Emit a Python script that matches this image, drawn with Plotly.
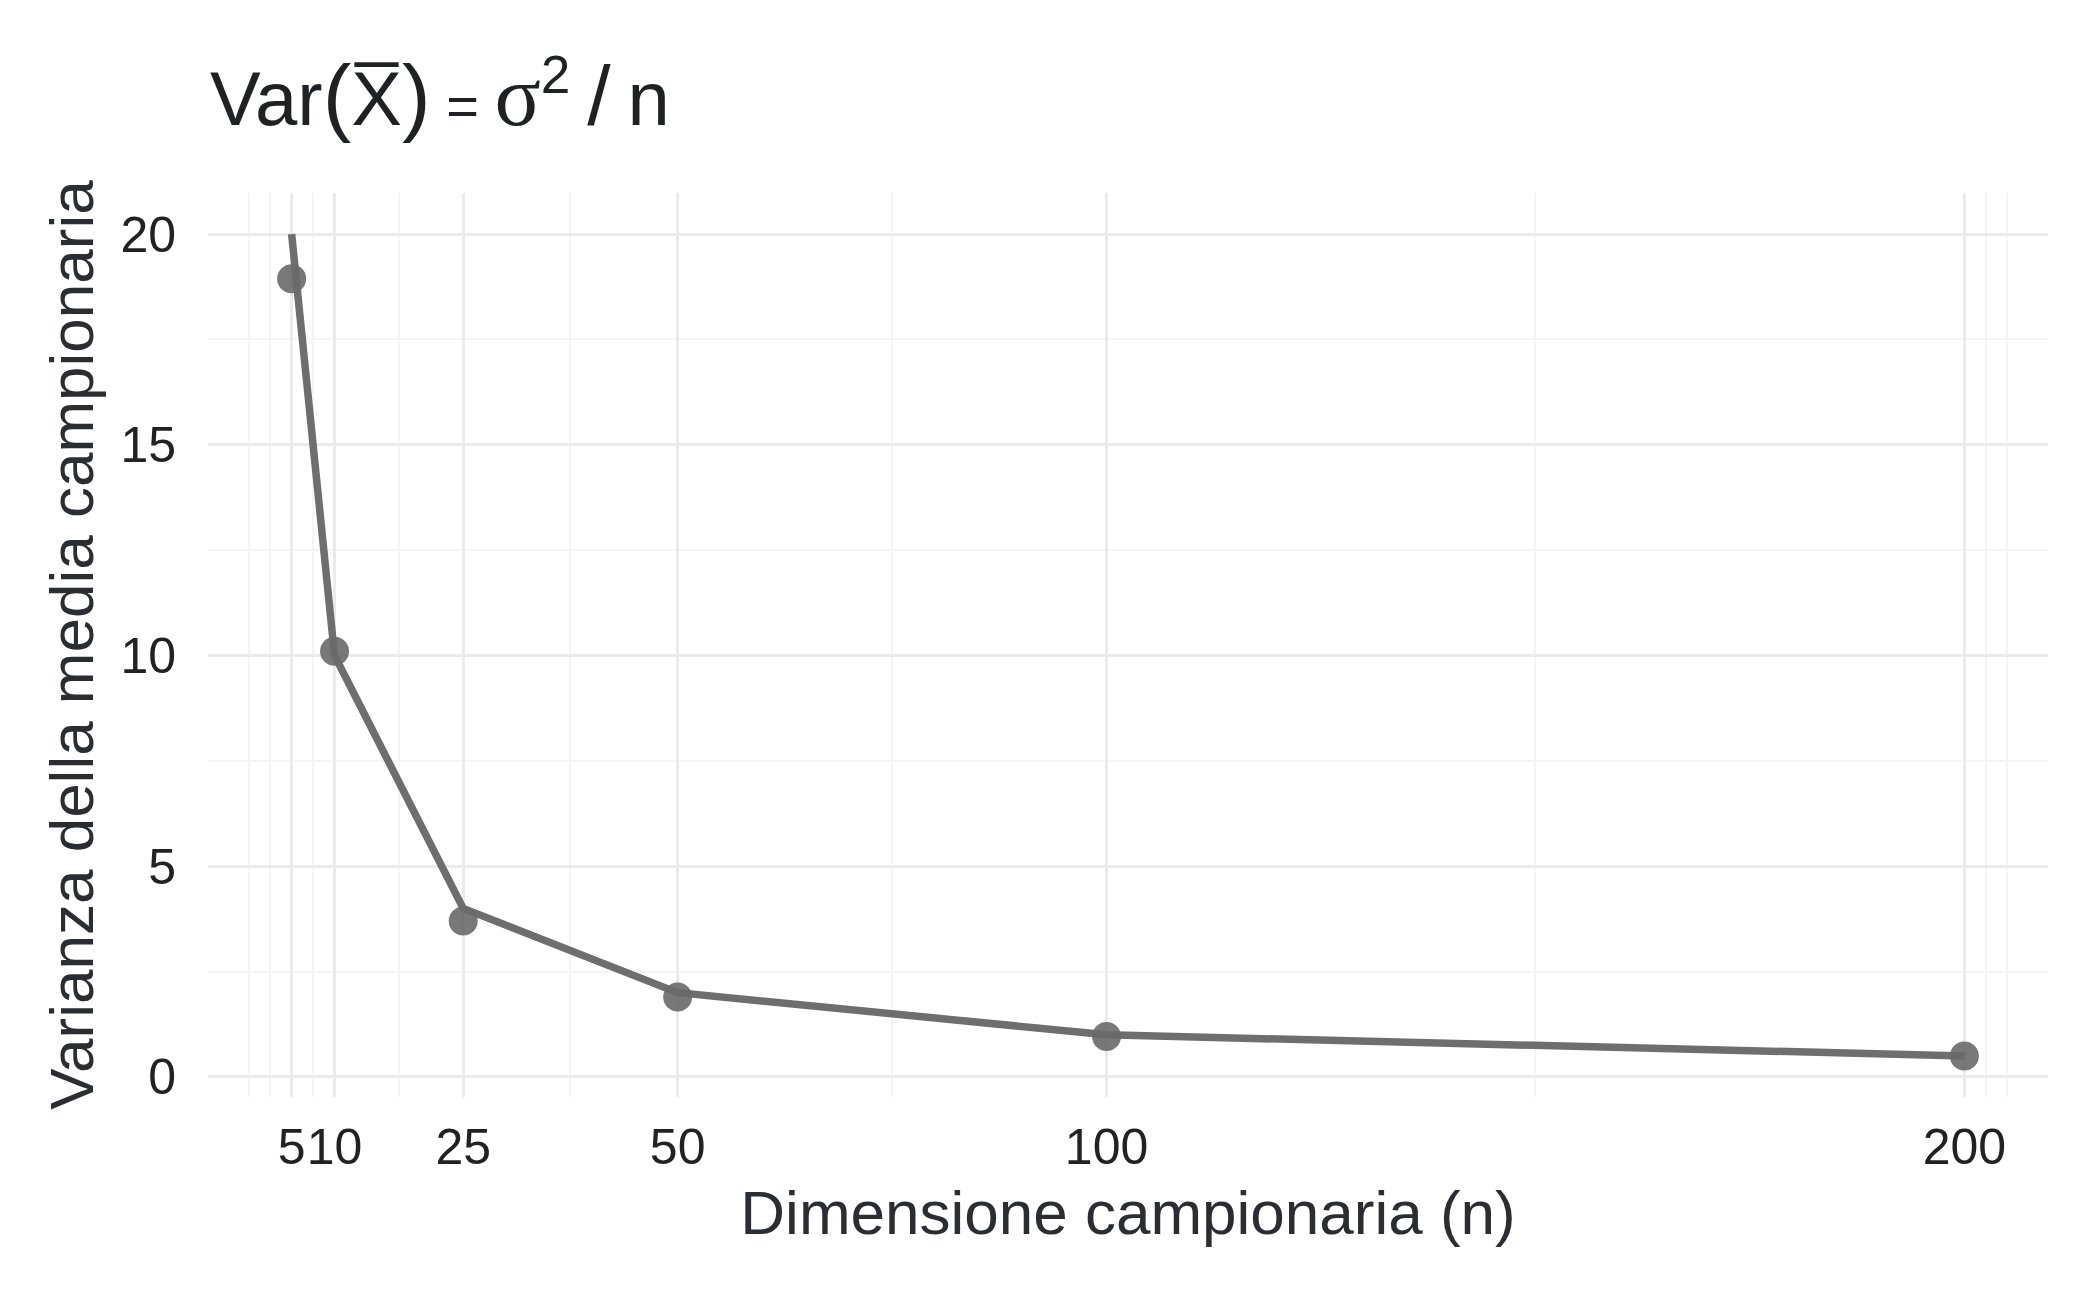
import plotly.graph_objects as go

# Data
n_values = [5, 10, 25, 50, 100, 200]
theoretical_var = [20, 10, 4, 2, 1, 0.5]
observed_var = [18.94, 10.10, 3.70, 1.90, 0.96, 0.50]
x_tick_vals = [5, 10, 25, 50, 100, 200]
x_tick_text = ["5", "10", "25", "50", "100", "200"]
x_minor_vals = [0, 2.5, 7.5, 17.5, 37.5, 75, 150, 202.5, 205]
y_tick_vals = [0, 5, 10, 15, 20]
y_minor_vals = [2.5, 7.5, 12.5, 17.5]

FONT = "Liberation Sans, Arial, Helvetica, sans-serif"

# the page body has an 8px default margin: compensate in figure size/margins
W, H = 2092, 1289

fig = go.Figure()
fig.add_trace(go.Scatter(
    x=n_values, y=theoretical_var, mode="lines",
    line=dict(color="#6e6e6e", width=7.5), showlegend=False, hoverinfo="skip"))
fig.add_trace(go.Scatter(
    x=n_values, y=observed_var, mode="markers",
    marker=dict(color="rgba(105,105,105,0.9)", size=29, line=dict(width=0)),
    showlegend=False))

title_text = ('Var<span style="font-size:86px">(</span>X\u0305<span style="font-size:86px">)</span>'
              '<span style="font-size:56px"> = </span>'
              '<span style="font-family:Liberation Serif, DejaVu Serif, serif;font-size:86px">σ</span><sup>2</sup>'
              '<span style="font-size:84px">\u2009/\u2009</span>n')

fig.update_layout(
    width=W, height=H,
    paper_bgcolor="white", plot_bgcolor="white",
    margin=dict(l=200, r=52, t=185, b=200),
    font=dict(family=FONT, color="#222222"),
    title=dict(text=title_text, x=202/W, xanchor="left", xref="container",
               y=1-90/H, yanchor="middle",
               font=dict(family=FONT, size=76, color="#1f2124")),
    xaxis=dict(
        range=[-4.75, 209.75], tickmode="array", tickvals=x_tick_vals, ticktext=x_tick_text,
        automargin=False, tickangle=0,
        showgrid=True, gridcolor="#ebebeb", gridwidth=2.7, zeroline=False, showline=False,
        ticks="", tickfont=dict(size=50, color="#222222"), ticklabelstandoff=16,
        minor=dict(tickmode="array", tickvals=x_minor_vals, showgrid=True,
                   gridcolor="#f5f5f5", gridwidth=1.5, ticks=""),
        title=dict(text="Dimensione campionaria (n)", standoff=16,
                   font=dict(size=62, color="#2a2d31")),
    ),
    yaxis=dict(
        range=[-0.475, 20.975], tickmode="array", tickvals=y_tick_vals,
        automargin=False,
        showgrid=True, gridcolor="#ebebeb", gridwidth=2.7, zeroline=False, showline=False,
        ticks="", tickfont=dict(size=50, color="#222222"), ticklabelstandoff=31,
        minor=dict(tickmode="array", tickvals=y_minor_vals, showgrid=True,
                   gridcolor="#f5f5f5", gridwidth=1.5, ticks=""),
        title=dict(text="Varianza della media campionaria", standoff=6,
                   font=dict(size=62, color="#2a2d31")),
    ),
)

fig.write_html("out.html")
